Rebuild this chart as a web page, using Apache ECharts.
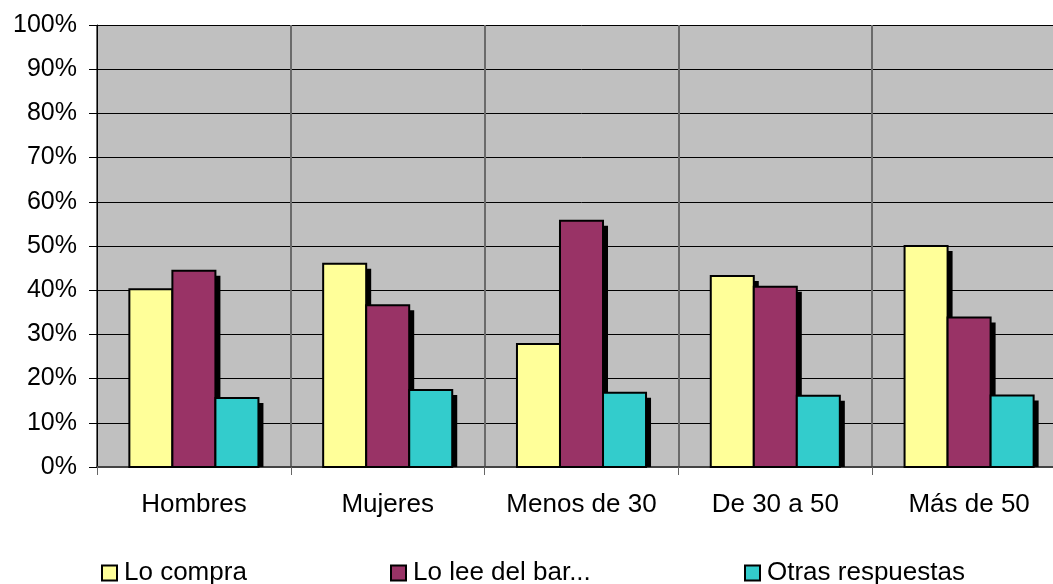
<!DOCTYPE html>
<html>
<head>
<meta charset="utf-8">
<script src="https://cdn.jsdelivr.net/npm/echarts@6/dist/echarts.min.js"></script>
<style>
  html, body { margin: 0; padding: 0; background: #fff; overflow: hidden; }
  #chart { width: 1066px; height: 584px; }
</style>
</head>
<body>
<div id="chart"></div>
<script>
const categories = ['Hombres', 'Mujeres', 'Menos de 30', 'De 30 a 50', 'Más de 50'];
const seriesNames = ['Lo compra', 'Lo lee del bar...', 'Otras respuestas'];
const loCompra = [40.2, 46.0, 27.8, 43.2, 50.0];
const loLee = [44.4, 36.6, 55.7, 40.8, 33.8];
const otras = [15.6, 17.4, 16.8, 16.1, 16.2];
const colors = ['#FFFF99', '#993366', '#33CCCC'];

const font = 'Liberation Sans, Arial, sans-serif';
const chart = echarts.init(document.getElementById('chart'));

// bars with a hard black drop shadow that stops at the axis
function renderBar(params, api) {
    const k = params.seriesIndex;
    const cat = api.value(0);
    const base = api.coord([cat, 0]);
    const top = api.coord([cat, api.value(1)]);
    const band = api.size([1, 0])[0];
    const w = band * 0.222;
    const x = base[0] - 1.5 * w + k * w;
    const h = base[1] - top[1];
    return {
        type: 'group',
        children: [
            { type: 'rect', shape: { x: x + 5, y: top[1] + 5, width: w, height: Math.max(h - 5, 0) }, style: { fill: '#000' } },
            { type: 'rect', shape: { x: x, y: top[1], width: w, height: h }, style: { fill: colors[k], stroke: '#000', lineWidth: 2 } }
        ]
    };
}

const values = [loCompra, loLee, otras];

const legendBase = {
    top: 560,
    padding: 0,
    icon: 'rect',
    itemWidth: 15,
    itemHeight: 15,
    itemGap: 0,
    textStyle: { fontFamily: font, fontSize: 26, color: '#000', padding: [0, 0, 0, 2] },
    itemStyle: { borderColor: '#000', borderWidth: 2 }
};

chart.setOption({
    animation: false,
    backgroundColor: '#fff',
    grid: { left: 97, top: 25, right: 0, bottom: 117, show: true, backgroundColor: '#C0C0C0', borderWidth: 0 },
    legend: [
        Object.assign({}, legendBase, { left: 101, data: [seriesNames[0]] }),
        Object.assign({}, legendBase, { left: 390, data: [seriesNames[1]] }),
        Object.assign({}, legendBase, { left: 744, data: [seriesNames[2]] })
    ],
    xAxis: {
        type: 'category',
        data: categories,
        axisLine: { lineStyle: { color: '#444', width: 2 } },
        axisTick: { show: true, interval: 0, length: 8, lineStyle: { color: '#666', width: 1 } },
        axisLabel: { interval: 0, fontFamily: font, fontSize: 26, color: '#000', margin: 25 },
        splitLine: { show: true, interval: 0, lineStyle: { color: '#6a6a6a', width: 2 } }
    },
    yAxis: {
        type: 'value',
        min: 0,
        max: 100,
        interval: 10,
        axisLine: { show: true, lineStyle: { color: '#000', width: 1 } },
        axisTick: { show: true, length: 8, lineStyle: { color: '#000' } },
        axisLabel: { fontFamily: font, fontSize: 25, color: '#000', margin: 20, formatter: '{value}%' },
        splitLine: { show: true, lineStyle: { color: '#000', width: 1 } }
    },
    series: values.map((vals, k) => ({
        name: seriesNames[k],
        type: 'custom',
        renderItem: renderBar,
        itemStyle: { color: colors[k] },
        encode: { x: 0, y: 1 },
        data: vals.map((v, i) => [i, v])
    }))
});
</script>
</body>
</html>
